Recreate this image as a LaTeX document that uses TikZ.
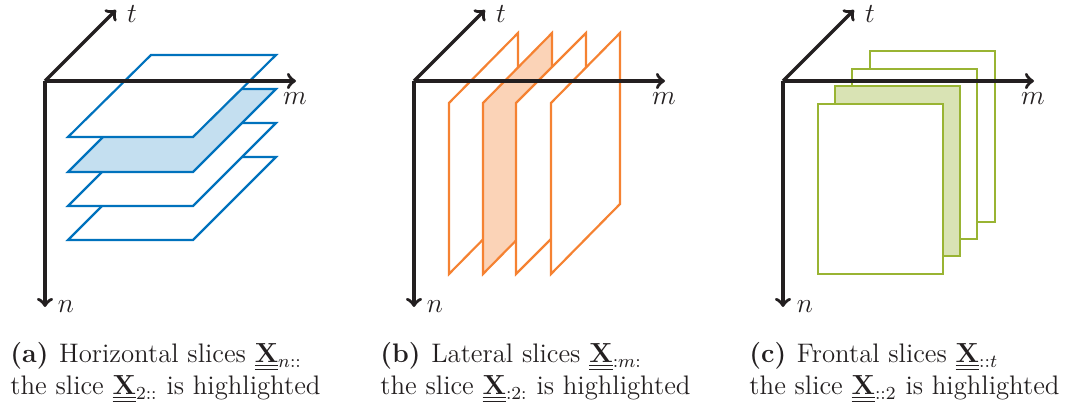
\documentclass[tikz,border=0pt]{standalone}
\usepackage{amsmath}
\usetikzlibrary{positioning,arrows}

\definecolor{sliceblue}{RGB}{0,114,189}
\definecolor{sliceorange}{RGB}{245,130,50}
\definecolor{slicegreen}{RGB}{153,180,51}
\definecolor{axisblack}{RGB}{35,31,32}

\newcommand{\tens}[1]{\mathord{\setbox0=\hbox{$\mathbf{#1}$}\setbox2=\hbox{\rlap{\vrule width\wd0 height -1.1pt depth 1.5pt}\rlap{\vrule width\wd0 height -2.6pt depth 3pt}\box0}\dp2=1.8pt\box2}}

\begin{document}
\begin{tikzpicture}[
    x=0.4348pt, y=-0.4348pt,
    axis/.style={->, line width=1.5pt, color=axisblack},
    axislabel/.style={inner sep=0pt, font=\fontsize{12.5}{15}\selectfont, color=axisblack},
    slice/.style={draw, line width=0.95pt, fill=white},
    hslice/.style={slice, draw=sliceblue},
    lslice/.style={slice, draw=sliceorange},
    fslice/.style={slice, draw=slicegreen},
    caption/.style={anchor=north west, inner sep=0pt, align=left, font=\fontsize{11.65}{13.9}\selectfont, color=axisblack}
]
    \useasboundingbox (0,0) rectangle (1077,410);

    % Horizontal slices
    \draw[hslice] (68,240) -- (193,240) -- (276,157) -- (151,157) -- cycle;
    \draw[hslice] (68,206) -- (193,206) -- (276,123) -- (151,123) -- cycle;
    \draw[hslice, fill=sliceblue!23] (68,172) -- (193,172) -- (276,89) -- (151,89) -- cycle;
    \draw[hslice] (68,137) -- (193,137) -- (276,55) -- (151,55) -- cycle;

    % Lateral slices
    \draw[lslice] (449,274) -- (449,103) -- (518,33) -- (518,204) -- cycle;
    \draw[lslice, fill=sliceorange!35] (483,274) -- (483,103) -- (552,33) -- (552,204) -- cycle;
    \draw[lslice] (516,274) -- (516,103) -- (586,33) -- (586,204) -- cycle;
    \draw[lslice] (551,274) -- (551,103) -- (620,33) -- (620,204) -- cycle;

    % Frontal slices
    \draw[fslice] (870,51) rectangle (995,222);
    \draw[fslice] (852,69) rectangle (977,239);
    \draw[fslice, fill=slicegreen!37] (835,86) rectangle (960,256);
    \draw[fslice] (818,104) rectangle (943,274);

    % Axes
    \coordinate (originA) at (45,81);
    \coordinate (nA) at (45,307);
    \coordinate (mA) at (296,81);
    \coordinate (tA) at (116,10);
    \coordinate (originB) at (414,81);
    \coordinate (nB) at (414,307);
    \coordinate (mB) at (665,81);
    \coordinate (tB) at (485,10);
    \coordinate (originC) at (783,81);
    \coordinate (nC) at (783,307);
    \coordinate (mC) at (1034,81);
    \coordinate (tC) at (854,10);

    \draw[axis] (originA) -- (nA);
    \draw[axis] (originA) -- (mA);
    \draw[axis] (originA) -- (tA);
    \draw[axis] (originB) -- (nB);
    \draw[axis] (originB) -- (mB);
    \draw[axis] (originB) -- (tB);
    \draw[axis] (originC) -- (nC);
    \draw[axis] (originC) -- (mC);
    \draw[axis] (originC) -- (tC);

    % Axis labels
    \node[axislabel] (labelnA) at (66,307) {$n$};
    \node[axislabel] (labelmA) at (295,99) {$m$};
    \node[axislabel] (labeltA) at (132,14) {$t$};
    \node[axislabel] (labelnB) at (435,307) {$n$};
    \node[axislabel] (labelmB) at (664,99) {$m$};
    \node[axislabel] (labeltB) at (501,14) {$t$};
    \node[axislabel] (labelnC) at (805,307) {$n$};
    \node[axislabel] (labelmC) at (1033,99) {$m$};
    \node[axislabel] (labeltC) at (870,14) {$t$};

    % Captions
    \node[caption] (captionA) at (10,342) {\textbf{(a)}\kern 4.6pt Horizontal slices $\tens{X}_{n::}$\\the slice $\tens{X}_{2::}$ is highlighted};
    \node[caption] (captionB) at (380,342) {\textbf{(b)}\kern 4.6pt Lateral slices $\tens{X}_{:m:}$\\the slice $\tens{X}_{:2:}$ is highlighted};
    \node[caption] (captionC) at (749,342) {\textbf{(c)}\kern 4.6pt Frontal slices $\tens{X}_{::t}$\\the slice $\tens{X}_{::2}$ is highlighted};

\end{tikzpicture}
\end{document}
